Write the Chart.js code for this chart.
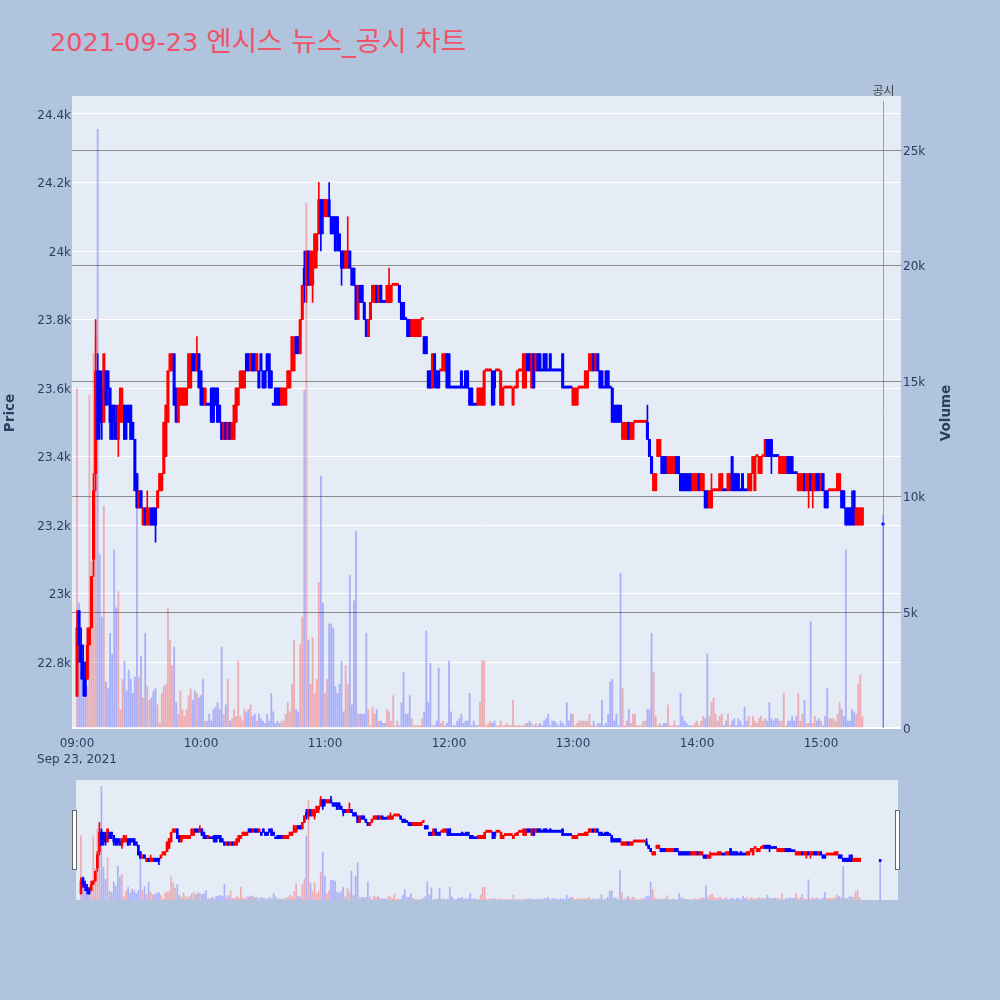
<!DOCTYPE html>
<html>
<head>
<meta charset="utf-8">
<script src="https://cdn.jsdelivr.net/npm/chart.js"></script>
<style>
  html, body { margin: 0; padding: 0; background: #b0c4de; }
  #wrap { position: relative; width: 1000px; height: 1000px; overflow: hidden; }
  #title { position: absolute; left: 50px; top: 29px; font-size: 25.5px; line-height: 25px;
           font-family: "DejaVu Sans", "Noto Sans CJK KR", sans-serif; color: #ef5368; white-space: nowrap; }
  #title .ko { font-size: 27.6px; }
  #main { position: absolute; left: 0; top: 0; }
  #slider { position: absolute; left: 66px; top: 770px; }
</style>
</head>
<body>
<div id="wrap">
  <div id="title">2021-09-23 <span class="ko">엔시스 뉴스_공시 차트</span></div>
  <canvas id="main" width="1000" height="780"></canvas>
  <canvas id="slider" width="842" height="140"></canvas>
</div>
<script>
// ---- one-minute bars, 23 Sep 2021 (minutes after 09:00; 390 = closing auction 15:30) ----
const opens = [
  22700,22950,22850,22800,22750,22750,22850,22900,23100,23350,
  23650,23650,23600,23500,23650,23650,23600,23550,23550,23500,
  23450,23500,23500,23550,23550,23550,23550,23500,23450,23350,
  23250,23300,23200,23250,23200,23200,23250,23250,23250,23250,
  23300,23300,23350,23400,23500,23650,23650,23700,23600,23500,
  23550,23550,23550,23550,23600,23600,23700,23700,23650,23700,
  23650,23600,23550,23550,23550,23600,23600,23600,23600,23550,
  23500,23450,23500,23450,23500,23450,23450,23500,23550,23600,
  23600,23600,23700,23700,23650,23700,23700,23650,23650,23700,
  23650,23650,23700,23700,23650,23550,23600,23600,23600,23550,
  23550,23550,23600,23600,23650,23650,23750,23750,23700,23800,
  23950,23900,24000,23900,23900,23950,24000,24050,24150,24150,
  24100,24100,24150,24100,24100,24100,24100,24050,24000,24000,
  23950,23950,24000,23950,23950,23900,23800,23900,23900,23850,
  23800,23750,23800,23850,23850,23900,23850,23900,23850,23850,
  23850,23850,23850,23900,23900,23900,23900,23850,23850,23800,
  23800,23800,23750,23750,23750,23750,23750,23800,23750,23750,
  23650,23650,23600,23700,23650,23650,23650,23650,23650,23700,
  23700,23600,23600,23600,23600,23600,23650,23600,23650,23650,
  23600,23600,23550,23550,23550,23550,23550,23550,23650,23650,
  23650,23650,23650,23650,23650,23550,23550,23600,23600,23600,
  23600,23550,23600,23600,23650,23650,23600,23600,23700,23700,
  23600,23700,23650,23700,23700,23650,23700,23700,23650,23700,
  23650,23650,23650,23650,23650,23700,23600,23600,23600,23600,
  23550,23550,23550,23600,23600,23600,23600,23600,23650,23650,
  23700,23650,23700,23650,23650,23600,23650,23650,23600,23600,
  23550,23550,23550,23550,23450,23450,23450,23500,23450,23450,
  23500,23500,23500,23500,23500,23500,23500,23450,23400,23300,
  23300,23400,23400,23400,23400,23400,23350,23350,23350,23350,
  23400,23400,23350,23350,23350,23350,23350,23350,23300,23300,
  23300,23350,23300,23300,23300,23300,23250,23250,23300,23300,
  23300,23300,23300,23300,23300,23300,23300,23400,23350,23350,
  23350,23300,23350,23300,23300,23300,23300,23350,23300,23400,
  23350,23350,23400,23400,23450,23450,23450,23400,23400,23400,
  23350,23350,23350,23350,23400,23400,23400,23350,23350,23300,
  23300,23300,23350,23300,23300,23350,23300,23300,23350,23350,
  23300,23350,23300,23300,23300,23300,23300,23300,23300,23300,
  23300,23300,23250,23250,23250,23250,23300,23200,23200,23200,23200,
  23200
];
const highs = [
  22950,22950,22900,22850,22800,22900,22900,23050,23350,23800,
  23700,23650,23650,23700,23650,23650,23600,23550,23550,23550,
  23550,23600,23600,23550,23550,23550,23550,23500,23450,23350,
  23300,23300,23250,23250,23300,23250,23250,23250,23250,23300,
  23350,23350,23500,23550,23650,23700,23700,23700,23600,23600,
  23600,23600,23600,23600,23700,23700,23700,23700,23750,23700,
  23650,23600,23600,23550,23550,23600,23600,23600,23600,23550,
  23500,23500,23500,23500,23500,23500,23550,23600,23600,23650,
  23650,23650,23700,23700,23700,23700,23700,23700,23650,23700,
  23650,23650,23700,23700,23650,23550,23600,23600,23600,23600,
  23600,23600,23650,23650,23750,23750,23750,23750,23800,23900,
  24000,24000,24000,24000,24000,24050,24050,24200,24150,24150,
  24150,24150,24200,24100,24100,24100,24100,24050,24000,24000,
  24000,24100,24000,23950,23950,23900,23900,23900,23900,23850,
  23800,23800,23850,23900,23900,23900,23900,23900,23850,23850,
  23900,23950,23900,23900,23900,23900,23900,23850,23850,23800,
  23800,23800,23800,23800,23800,23800,23800,23800,23750,23750,
  23650,23650,23700,23700,23650,23650,23650,23700,23700,23700,
  23700,23600,23600,23600,23600,23600,23650,23600,23650,23650,
  23600,23600,23550,23550,23600,23600,23600,23650,23650,23650,
  23650,23650,23650,23650,23650,23650,23600,23600,23600,23600,
  23600,23600,23600,23650,23650,23650,23700,23700,23700,23700,
  23700,23700,23700,23700,23700,23650,23700,23700,23650,23700,
  23650,23650,23650,23650,23650,23700,23600,23600,23600,23600,
  23600,23600,23600,23600,23600,23600,23650,23650,23700,23700,
  23700,23700,23700,23650,23650,23600,23650,23650,23600,23600,
  23550,23550,23550,23550,23500,23500,23500,23500,23500,23500,
  23500,23500,23500,23500,23500,23500,23550,23450,23400,23350,
  23350,23450,23450,23400,23400,23400,23400,23400,23400,23400,
  23400,23400,23350,23350,23350,23350,23350,23350,23350,23350,
  23350,23350,23350,23350,23300,23300,23300,23350,23300,23300,
  23300,23350,23350,23300,23300,23350,23350,23400,23350,23350,
  23350,23300,23350,23300,23300,23350,23350,23400,23400,23400,
  23400,23400,23400,23450,23450,23450,23450,23400,23400,23400,
  23400,23400,23400,23400,23400,23400,23400,23350,23350,23350,
  23350,23350,23350,23350,23350,23350,23350,23350,23350,23350,
  23350,23350,23300,23300,23300,23300,23300,23300,23350,23350,
  23300,23300,23250,23250,23250,23300,23300,23250,23250,23250,23250,
  23200
];
const lows = [
  22700,22800,22750,22700,22700,22750,22850,22900,23050,23300,
  23450,23450,23450,23500,23550,23550,23450,23450,23450,23450,
  23400,23500,23500,23450,23450,23500,23450,23450,23300,23250,
  23250,23250,23200,23200,23200,23200,23200,23200,23150,23250,
  23300,23300,23350,23400,23500,23650,23650,23550,23500,23500,
  23550,23550,23550,23550,23600,23600,23650,23650,23650,23600,
  23550,23550,23550,23550,23550,23500,23500,23550,23500,23500,
  23450,23450,23450,23450,23450,23450,23450,23500,23550,23600,
  23600,23600,23650,23650,23650,23650,23650,23650,23600,23650,
  23600,23600,23650,23600,23600,23550,23550,23550,23550,23550,
  23550,23550,23600,23600,23650,23650,23700,23700,23700,23800,
  23850,23850,23900,23900,23850,23950,23950,24050,24000,24050,
  24100,24100,24100,24050,24050,24000,24000,24000,23900,23950,
  23950,23950,23950,23900,23900,23800,23800,23850,23850,23800,
  23750,23750,23800,23850,23850,23850,23850,23850,23850,23850,
  23850,23850,23850,23900,23900,23900,23850,23800,23800,23800,
  23750,23750,23750,23750,23750,23750,23750,23800,23700,23700,
  23600,23600,23600,23600,23600,23600,23650,23650,23650,23600,
  23600,23600,23600,23600,23600,23600,23600,23600,23600,23600,
  23550,23550,23550,23550,23550,23550,23550,23550,23650,23650,
  23650,23550,23550,23650,23650,23550,23550,23600,23600,23600,
  23600,23550,23600,23600,23650,23650,23600,23600,23650,23650,
  23600,23600,23650,23650,23650,23650,23650,23650,23650,23650,
  23650,23650,23650,23650,23650,23600,23600,23600,23600,23600,
  23550,23550,23550,23600,23600,23600,23600,23600,23650,23650,
  23650,23650,23650,23600,23600,23600,23600,23600,23600,23500,
  23500,23500,23500,23500,23450,23450,23450,23450,23450,23450,
  23500,23500,23500,23500,23500,23500,23450,23400,23350,23300,
  23300,23400,23400,23350,23350,23350,23350,23350,23350,23350,
  23350,23350,23300,23300,23300,23300,23300,23300,23300,23300,
  23300,23300,23300,23300,23250,23250,23250,23250,23300,23300,
  23300,23300,23300,23300,23300,23300,23300,23300,23300,23300,
  23300,23300,23300,23300,23300,23300,23300,23350,23300,23400,
  23350,23350,23400,23400,23400,23400,23350,23400,23400,23400,
  23350,23350,23350,23350,23350,23350,23350,23350,23350,23300,
  23300,23300,23300,23300,23250,23300,23250,23300,23300,23300,
  23300,23300,23250,23250,23300,23300,23300,23300,23300,23300,
  23250,23250,23200,23200,23200,23200,23200,23200,23200,23200,23200,
  23200
];
const closes = [
  22900,22850,22800,22750,22700,22850,22900,23050,23300,23650,
  23450,23500,23500,23700,23550,23600,23500,23450,23500,23450,
  23550,23600,23550,23450,23500,23500,23450,23450,23300,23250,
  23300,23250,23250,23200,23250,23250,23200,23200,23200,23300,
  23350,23350,23500,23550,23650,23700,23700,23550,23500,23600,
  23600,23600,23600,23600,23700,23700,23650,23650,23700,23600,
  23550,23550,23600,23550,23550,23500,23500,23550,23500,23500,
  23450,23500,23450,23500,23450,23500,23550,23600,23600,23650,
  23650,23650,23650,23650,23700,23650,23650,23700,23600,23650,
  23600,23600,23650,23600,23600,23550,23550,23550,23550,23600,
  23600,23600,23650,23650,23750,23700,23700,23700,23800,23900,
  23900,24000,23900,24000,23950,24050,24050,24150,24050,24100,
  24150,24150,24100,24050,24050,24000,24050,24000,23950,23950,
  24000,24000,23950,23900,23900,23800,23900,23850,23850,23800,
  23750,23800,23850,23900,23900,23850,23900,23850,23850,23850,
  23900,23900,23900,23900,23900,23900,23850,23800,23800,23800,
  23750,23750,23800,23800,23800,23800,23800,23800,23700,23700,
  23600,23600,23700,23650,23600,23600,23650,23700,23700,23600,
  23600,23600,23600,23600,23600,23600,23600,23600,23600,23600,
  23550,23550,23550,23550,23600,23600,23600,23650,23650,23650,
  23650,23550,23600,23650,23650,23650,23600,23600,23600,23600,
  23600,23600,23600,23650,23650,23650,23700,23700,23650,23650,
  23700,23600,23700,23650,23650,23650,23650,23650,23650,23650,
  23650,23650,23650,23650,23650,23600,23600,23600,23600,23600,
  23600,23600,23600,23600,23600,23600,23650,23650,23700,23700,
  23650,23700,23650,23600,23600,23600,23600,23600,23600,23500,
  23500,23500,23500,23500,23500,23500,23500,23450,23500,23500,
  23500,23500,23500,23500,23500,23500,23450,23400,23350,23350,
  23350,23450,23450,23350,23350,23350,23400,23400,23400,23400,
  23350,23350,23300,23300,23300,23300,23300,23300,23350,23350,
  23350,23300,23350,23350,23250,23250,23300,23300,23300,23300,
  23300,23350,23350,23300,23300,23350,23350,23300,23300,23300,
  23300,23300,23300,23300,23300,23350,23350,23400,23400,23400,
  23400,23400,23400,23450,23400,23400,23400,23400,23400,23400,
  23400,23400,23400,23400,23350,23350,23350,23350,23350,23350,
  23350,23350,23300,23350,23350,23300,23350,23350,23300,23300,
  23350,23300,23250,23250,23300,23300,23300,23300,23350,23350,
  23250,23250,23200,23200,23200,23200,23200,23250,23250,23250,23250,
  23200
];
const volumes = [
  14700,5400,2500,1300,2500,1800,14400,7200,16200,16900,
  25900,7500,4800,9600,2000,1700,4100,3200,7700,5200,
  5900,800,2100,2900,1600,2500,2100,1500,2200,9700,
  2200,3100,1300,4100,1800,1200,1300,1600,1700,1000,
  200,1500,1800,1900,5200,3800,2700,3500,1100,600,
  1600,800,500,800,1400,1700,1200,1600,1500,1300,
  1400,2100,300,300,600,300,800,900,1100,800,
  3500,600,1000,2100,300,400,800,500,2900,500,
  300,800,700,800,1000,500,600,300,600,400,
  300,200,600,300,1500,700,200,300,200,300,
  300,600,1100,700,1900,3800,800,700,3600,4800,
  14600,22700,3800,1900,3900,1500,2100,6300,10900,5400,
  1500,2100,4500,4500,4300,1800,1500,1900,2900,700,
  2700,1900,6600,1000,5500,8500,600,600,600,600,
  4100,800,100,900,600,800,300,300,200,200,
  800,700,300,1400,100,300,100,1100,2400,600,
  600,1400,400,100,100,100,100,400,700,4200,
  1100,2800,100,100,300,2600,200,300,100,200,
  2900,700,100,100,300,400,600,200,300,300,
  1500,100,300,100,100,1100,2900,2900,100,200,
  300,200,300,100,100,300,100,100,200,100,
  100,1200,100,100,100,100,100,200,200,300,
  200,100,200,100,200,100,300,400,600,100,
  300,300,200,100,300,200,100,1100,300,600,
  600,100,200,300,300,300,300,300,600,100,
  300,100,200,200,1200,100,200,600,2000,2100,
  300,600,100,6700,1700,100,300,800,200,600,
  600,100,100,100,300,300,800,800,4100,2400,
  500,100,200,100,200,200,1000,100,100,300,
  100,100,1500,500,300,200,100,100,100,200,
  300,100,300,500,400,3200,500,1100,1300,600,
  300,500,600,100,300,600,100,300,400,100,
  400,300,100,900,300,500,100,500,300,200,
  400,500,300,400,300,1100,400,300,400,400,
  300,300,1500,100,300,300,500,300,500,1500,
  300,600,1200,200,200,4600,200,500,300,400,
  300,100,500,1700,400,400,400,300,600,1100,
  800,500,7700,300,300,800,700,600,1900,2300,500,
  9200
];

// session clock: continuous trading 09:00-15:20, then the 15:30 closing auction
const minutes = [];
for (let m = 0; m <= 380; m++) minutes.push(m);
minutes.push(390);

const disclosureMinute = 390;          // 공시 marker at 15:30
const disclosureLabel = '공시';

const timeTicks  = [0, 60, 120, 180, 240, 300, 360];
const timeLabels = ['09:00', '10:00', '11:00', '12:00', '13:00', '14:00', '15:00'];
const dateLabel  = 'Sep 23, 2021';
const priceTicks = [22800, 23000, 23200, 23400, 23600, 23800, 24000, 24200, 24400];
const volumeTicks = [0, 5000, 10000, 15000, 20000, 25000];

const timeRange   = [-2.42, 398.7];
const priceRange  = [22607.5, 24452.5];
const volumeRange = [0, 27340];

// ---- colours: rising bars red, falling bars blue ----
const UP = '#ff0000', DOWN = '#0000ff';
const VOL_UP = 'rgba(255,0,0,0.27)', VOL_DOWN = 'rgba(0,0,255,0.25)';

const rising = [];
closes.forEach((c, i) => {
  const o = opens[i];
  let up;
  if (c > o) up = true;
  else if (c < o) up = false;
  else if (i === 0) up = true;
  else up = c > closes[i - 1] ? true : (c < closes[i - 1] ? false : rising[i - 1]);
  rising.push(up);
});

function candleDatasets(size) {
  return [
    {
      label: 'Volume', yAxisID: 'yv', order: 3, grouped: false,
      data: minutes.map((m, i) => ({ x: m, y: volumes[i] })),
      backgroundColor: rising.map(u => u ? VOL_UP : VOL_DOWN),
      barThickness: size.vol, borderWidth: 0
    },
    {
      label: 'High-Low', yAxisID: 'y', order: 2, grouped: false,
      data: minutes.map((m, i) => ({ x: m, y: [lows[i], highs[i]] })),
      backgroundColor: rising.map(u => u ? UP : DOWN),
      barThickness: size.wick, borderWidth: 0
    },
    {
      label: 'Open-Close', yAxisID: 'y', order: 1, grouped: false,
      data: minutes.map((m, i) => ({ x: m, y: [opens[i], closes[i]] })),
      backgroundColor: rising.map(u => u ? UP : DOWN),
      barThickness: size.body, minBarLength: 2, borderWidth: 0
    }
  ];
}

const plotBackground = {
  id: 'plotBackground',
  beforeDraw(chart) {
    const { ctx, chartArea: a } = chart;
    ctx.save();
    ctx.fillStyle = '#e5ecf6';
    ctx.fillRect(a.left, a.top, a.right - a.left, a.bottom - a.top);
    ctx.restore();
  }
};

const FONT = "'DejaVu Sans', 'Noto Sans CJK KR', sans-serif";
const INK = '#2a3f5f';

const mainDecor = {
  id: 'mainDecor',
  afterDatasetsDraw(chart) {
    const { ctx, chartArea: a, scales } = chart;
    const x = Math.round(scales.x.getPixelForValue(disclosureMinute)) + 0.5;
    ctx.save();
    ctx.strokeStyle = 'rgba(40,140,40,0.55)';
    ctx.lineWidth = 1;
    ctx.beginPath();
    ctx.moveTo(x, a.top + 5);
    ctx.lineTo(x, a.bottom);
    ctx.stroke();
    ctx.fillStyle = '#444';
    ctx.font = "12px 'Noto Sans CJK KR', sans-serif";
    ctx.textAlign = 'center';
    ctx.textBaseline = 'middle';
    ctx.fillText(disclosureLabel, x, 90);
    ctx.restore();
  },
  afterDraw(chart) {
    const { ctx } = chart;
    [['Price', 10], ['Volume', 946]].forEach(([text, cx]) => {
      ctx.save();
      ctx.fillStyle = INK;
      ctx.font = 'bold 13.5px ' + FONT;
      ctx.textAlign = 'center';
      ctx.textBaseline = 'middle';
      ctx.translate(cx, 413);
      ctx.rotate(-Math.PI / 2);
      ctx.fillText(text, 0, 0);
      ctx.restore();
    });
  }
};

Chart.defaults.font.family = FONT;
Chart.defaults.font.size = 12;
Chart.defaults.color = INK;

const kFormat = v => v === 0 ? '0' : (v / 1000) + 'k';

new Chart(document.getElementById('main'), {
  type: 'bar',
  data: { datasets: candleDatasets({ vol: 1.2, wick: 1, body: 2.4 }) },
  options: {
    responsive: false, animation: false, devicePixelRatio: 1,
    layout: { padding: { top: 96, left: 0, right: 0, bottom: 0 } },
    plugins: { legend: { display: false }, tooltip: { enabled: false }, title: { display: false } },
    scales: {
      x: {
        type: 'linear', position: 'bottom', min: timeRange[0], max: timeRange[1], offset: false,
        grid: { display: false, drawTicks: false }, border: { display: false },
        afterBuildTicks: s => { s.ticks = timeTicks.map(v => ({ value: v })); },
        afterFit: s => { s.height = 52; },
        ticks: {
          autoSkip: false, maxRotation: 0, minRotation: 0, padding: 8,
          font: { size: 12, lineHeight: 1.35 },
          callback: (v, i) => i === 0 ? [timeLabels[0], dateLabel] : timeLabels[i]
        }
      },
      y: {
        type: 'linear', position: 'left', min: priceRange[0], max: priceRange[1],
        grid: { color: '#ffffff', lineWidth: 1, drawTicks: false }, border: { display: false },
        afterBuildTicks: s => { s.ticks = priceTicks.map(v => ({ value: v })); },
        afterFit: s => { s.width = 72; },
        ticks: { padding: 1, labelOffset: 1.5, callback: kFormat }
      },
      yv: {
        type: 'linear', position: 'right', min: volumeRange[0], max: volumeRange[1],
        grid: {
          color: c => c.tick && c.tick.value === 0 ? '#ffffff' : '#8c8c8c',
          lineWidth: c => c.tick && c.tick.value === 0 ? 2 : 1,
          drawTicks: false
        },
        border: { display: false },
        afterBuildTicks: s => { s.ticks = volumeTicks.map(v => ({ value: v })); },
        afterFit: s => { s.width = 99; },
        ticks: { padding: 2, labelOffset: 1.5, callback: kFormat }
      }
    }
  },
  plugins: [plotBackground, mainDecor]
});

// ---- overview strip underneath (range selector) ----
const sliderHandles = {
  id: 'sliderHandles',
  afterDraw(chart) {
    const { ctx, chartArea: a } = chart;
    ctx.save();
    ctx.fillStyle = '#ffffff';
    ctx.strokeStyle = '#666';
    ctx.lineWidth = 1;
    [a.left - 3, a.right - 2].forEach(x => {
      ctx.fillRect(Math.round(x) - 0.5, 40.5, 4, 59);
      ctx.strokeRect(Math.round(x) - 0.5, 40.5, 4, 59);
    });
    ctx.restore();
  }
};

new Chart(document.getElementById('slider'), {
  type: 'bar',
  data: { datasets: candleDatasets({ vol: 1, wick: 1, body: 2 }) },
  options: {
    responsive: false, animation: false, devicePixelRatio: 1,
    layout: { padding: { top: 10, left: 10, right: 10, bottom: 10 } },
    plugins: { legend: { display: false }, tooltip: { enabled: false } },
    scales: {
      x: { type: 'linear', display: false, min: timeRange[0], max: timeRange[1], offset: false },
      y: { type: 'linear', display: false, min: priceRange[0], max: priceRange[1] },
      yv: { type: 'linear', display: false, min: volumeRange[0], max: volumeRange[1] }
    }
  },
  plugins: [plotBackground, sliderHandles]
});
</script>
</body>
</html>
